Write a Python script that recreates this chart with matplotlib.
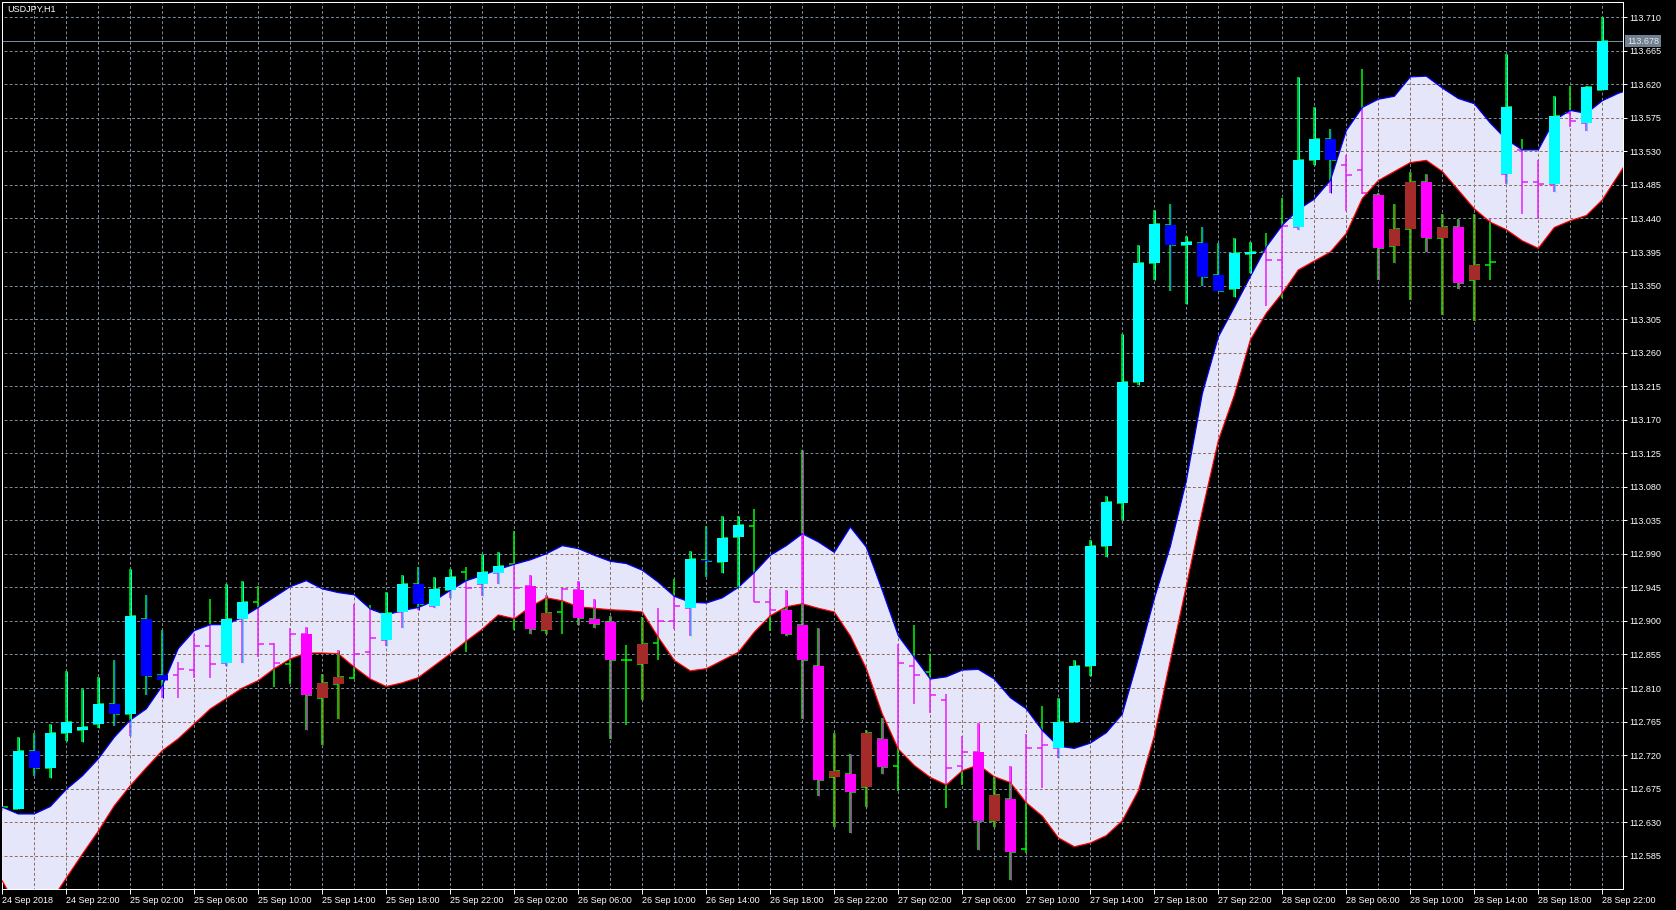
# USDJPY H1 chart: bar chart, coloured candle bodies and a filled band
import matplotlib
matplotlib.use("Agg")
import matplotlib.pyplot as plt
import matplotlib.transforms as mtransforms
from matplotlib.patches import Polygon
import numpy as np

# OHLC of every hourly bar, 24 Sep 18:00 ... 28 Sep 22:00
opens = [112.655, 112.648, 112.725, 112.703, 112.749, 112.753, 112.762, 112.788, 112.775, 112.903,
         112.828, 112.827, 112.834, 112.866, 112.843, 112.903, 112.925, 112.869, 112.842, 112.883,
         112.797, 112.815, 112.823, 112.858, 112.874, 112.912, 112.949, 112.920, 112.941, 112.965,
         112.950, 112.964, 112.977, 112.947, 112.888, 112.912, 112.942, 112.903, 112.898, 112.848,
         112.842, 112.870, 112.900, 112.918, 112.982, 112.979, 113.012, 113.028, 112.926, 112.915,
         112.895, 112.840, 112.690, 112.694, 112.677, 112.742, 112.706, 112.839, 112.832, 112.794,
         112.705, 112.724, 112.632, 112.661, 112.594, 112.730, 112.730, 112.765, 112.840, 113.001,
         113.058, 113.220, 113.380, 113.431, 113.405, 113.407, 113.364, 113.345, 113.392, 113.395,
         113.384, 113.429, 113.518, 113.547, 113.512, 113.505, 113.472, 113.403, 113.426, 113.489,
         113.414, 113.429, 113.357, 113.377, 113.500, 113.532, 113.489, 113.486, 113.582, 113.568,
         113.613]
highs = [112.665, 112.744, 112.750, 112.762, 112.833, 112.809, 112.825, 112.848, 112.970, 112.935,
         112.888, 112.845, 112.882, 112.929, 112.949, 112.954, 112.947, 112.870, 112.891, 112.892,
         112.829, 112.861, 112.923, 112.921, 112.939, 112.961, 112.972, 112.959, 112.970, 112.973,
         112.990, 112.992, 113.021, 112.962, 112.935, 112.944, 112.953, 112.930, 112.907, 112.868,
         112.905, 112.918, 112.956, 112.994, 113.028, 113.041, 113.041, 113.050, 112.943, 112.941,
         113.130, 112.891, 112.750, 112.722, 112.753, 112.770, 112.869, 112.894, 112.855, 112.802,
         112.746, 112.763, 112.692, 112.706, 112.748, 112.786, 112.796, 112.848, 113.008, 113.068,
         113.285, 113.405, 113.451, 113.460, 113.416, 113.428, 113.407, 113.414, 113.408, 113.421,
         113.467, 113.630, 113.590, 113.560, 113.525, 113.640, 113.474, 113.460, 113.503, 113.500,
         113.446, 113.439, 113.446, 113.439, 113.661, 113.546, 113.518, 113.604, 113.618, 113.618,
         113.710]
lows = [112.645, 112.648, 112.692, 112.689, 112.739, 112.737, 112.756, 112.759, 112.746, 112.801,
        112.797, 112.796, 112.824, 112.823, 112.839, 112.843, 112.851, 112.812, 112.815, 112.753,
        112.734, 112.768, 112.822, 112.822, 112.867, 112.890, 112.914, 112.918, 112.931, 112.858,
        112.934, 112.950, 112.888, 112.883, 112.883, 112.882, 112.895, 112.891, 112.741, 112.760,
        112.794, 112.848, 112.889, 112.880, 112.959, 112.964, 112.946, 112.925, 112.886, 112.880,
        112.768, 112.665, 112.623, 112.615, 112.650, 112.695, 112.672, 112.789, 112.777, 112.649,
        112.680, 112.592, 112.623, 112.552, 112.588, 112.676, 112.716, 112.765, 112.826, 112.986,
        113.035, 113.217, 113.357, 113.343, 113.325, 113.350, 113.343, 113.335, 113.367, 113.322,
        113.333, 113.424, 113.512, 113.474, 113.450, 113.473, 113.357, 113.380, 113.331, 113.395,
        113.310, 113.345, 113.302, 113.357, 113.486, 113.446, 113.439, 113.475, 113.563, 113.558,
        113.612]
closes = [112.651, 112.725, 112.703, 112.750, 112.765, 112.758, 112.789, 112.775, 112.906, 112.826,
          112.821, 112.835, 112.866, 112.842, 112.902, 112.926, 112.869, 112.843, 112.882, 112.800,
          112.817, 112.825, 112.856, 112.877, 112.911, 112.950, 112.923, 112.943, 112.959, 112.944,
          112.965, 112.974, 112.944, 112.889, 112.911, 112.943, 112.904, 112.896, 112.848, 112.848,
          112.869, 112.900, 112.920, 112.983, 112.980, 113.011, 113.029, 112.926, 112.915, 112.882,
          112.847, 112.686, 112.699, 112.670, 112.750, 112.704, 112.844, 112.828, 112.800, 112.703,
          112.724, 112.631, 112.667, 112.590, 112.729, 112.733, 112.765, 112.840, 113.001, 113.059,
          113.221, 113.380, 113.433, 113.404, 113.409, 113.362, 113.343, 113.394, 113.395, 113.384,
          113.430, 113.518, 113.547, 113.518, 113.498, 113.474, 113.400, 113.426, 113.489, 113.414,
          113.429, 113.353, 113.377, 113.382, 113.589, 113.489, 113.486, 113.578, 113.571, 113.616,
          113.678]

# body colour of each bar: c cyan, b blue, m magenta, r brown, - no body
body_kind = list("-cbccccbcb" "b---cc---m" "rr--ccbcc-" "cc-mr-mmm-" "r--cbcc--m"
                 "mmrmrm----" "-mrm--cccc" "cccbcbbcc-" "-ccb--mrrm" "rmr-c--c-c" "c")

# band edges (one value per bar, runs two bars past the last candle)
band_upper = [112.650, 112.641, 112.641, 112.651, 112.674, 112.692, 112.715, 112.744, 112.767, 112.782,
              112.813, 112.863, 112.887, 112.895, 112.895, 112.905, 112.918, 112.932, 112.946, 112.954,
              112.943, 112.938, 112.935, 112.916, 112.908, 112.914, 112.918, 112.927, 112.941, 112.954,
              112.961, 112.969, 112.976, 112.982, 112.990, 113.001, 112.997, 112.988, 112.980, 112.977,
              112.968, 112.952, 112.933, 112.925, 112.924, 112.931, 112.945, 112.965, 112.988, 113.001,
              113.017, 113.006, 112.992, 113.026, 112.999, 112.941, 112.880, 112.851, 112.822, 112.825,
              112.834, 112.835, 112.822, 112.797, 112.782, 112.753, 112.732, 112.729, 112.736, 112.750,
              112.775, 112.850, 112.930, 113.000, 113.088, 113.205, 113.281, 113.321, 113.362, 113.402,
              113.431, 113.452, 113.466, 113.491, 113.558, 113.589, 113.600, 113.604, 113.630, 113.631,
              113.615, 113.601, 113.594, 113.568, 113.546, 113.532, 113.532, 113.572, 113.585, 113.581,
              113.598, 113.608, 113.615]
band_lower = [112.551, 112.513, 112.504, 112.523, 112.555, 112.587, 112.618, 112.652, 112.679, 112.703,
              112.726, 112.742, 112.762, 112.782, 112.796, 112.810, 112.820, 112.836, 112.849, 112.857,
              112.857, 112.856, 112.838, 112.822, 112.812, 112.817, 112.824, 112.840, 112.856, 112.873,
              112.889, 112.908, 112.903, 112.919, 112.931, 112.927, 112.919, 112.917, 112.915, 112.914,
              112.912, 112.878, 112.847, 112.833, 112.836, 112.847, 112.858, 112.885, 112.907, 112.919,
              112.923, 112.917, 112.912, 112.880, 112.836, 112.775, 112.728, 112.706, 112.690, 112.680,
              112.699, 112.707, 112.691, 112.683, 112.656, 112.638, 112.609, 112.597, 112.602, 112.612,
              112.632, 112.672, 112.746, 112.847, 112.947, 113.048, 113.142, 113.203, 113.277, 113.313,
              113.340, 113.371, 113.383, 113.395, 113.420, 113.467, 113.491, 113.503, 113.515, 113.518,
              113.503, 113.478, 113.453, 113.435, 113.425, 113.410, 113.400, 113.428, 113.437, 113.444,
              113.465, 113.498, 113.532]

# axis labels
price_ticks = [113.710, 113.665, 113.620, 113.575, 113.530, 113.485, 113.440, 113.395, 113.350,
               113.305, 113.260, 113.215, 113.170, 113.125, 113.080, 113.035, 112.990, 112.945,
               112.900, 112.855, 112.810, 112.765, 112.720, 112.675, 112.630, 112.585]
time_bars = [0, 4, 8, 12, 16, 20, 24, 28, 32, 36, 40, 44, 48, 52, 56, 60, 64, 68, 72, 76, 80,
             84, 88, 92, 96, 100]
time_labels = ["24 Sep 2018", "24 Sep 22:00", "25 Sep 02:00", "25 Sep 06:00", "25 Sep 10:00",
               "25 Sep 14:00", "25 Sep 18:00", "25 Sep 22:00", "26 Sep 02:00", "26 Sep 06:00",
               "26 Sep 10:00", "26 Sep 14:00", "26 Sep 18:00", "26 Sep 22:00", "27 Sep 02:00",
               "27 Sep 06:00", "27 Sep 10:00", "27 Sep 14:00", "27 Sep 18:00", "27 Sep 22:00",
               "28 Sep 02:00", "28 Sep 06:00", "28 Sep 10:00", "28 Sep 14:00", "28 Sep 18:00",
               "28 Sep 22:00"]
current_price = 113.678

# colours
kind_colors = {"c": "#00ffff", "b": "#0000ff", "m": "#ff00ff", "r": "#a52a2a"}
grid_color = "#778899"
grid_in_band = "#916e63"
bar_color = "#00ff00"
bar_in_band = "#e619fa"
band_fill = "#e6e6fa"

W, H = 1676, 910
px = 0.72  # one pixel in points
fig = plt.figure(figsize=(W / 100, H / 100), dpi=100, facecolor="black")
ax = fig.add_axes([2 / W, 21 / H, 1621 / W, 887 / H], facecolor="black")
ax.set_xlim(-0.02, 101.29)
ax.set_ylim(112.5403, 113.7305)

x = np.arange(len(opens))
tick_len = 0.36
body_w = 0.69


def draw_grid(color, z, clip=None):
    # dashed grid: every price tick and every second bar
    h = ax.hlines(price_ticks, -1, 103, colors=color, lw=px, linestyles=(0, (2.9, 2.2)), zorder=z)
    v = ax.vlines(np.arange(2, 101, 2), 112.3, 113.9, colors=color, lw=px,
                  linestyles=(0, (2.9, 2.2)), zorder=z)
    if clip is not None:
        h.set_clip_path(clip)
        v.set_clip_path(clip)


def draw_bars(color, z, clip=None):
    # plain bar chart: high-low line, open tick left, close tick right
    items = [ax.vlines(x, lows, highs, colors=color, lw=1.5 * px, zorder=z),
             ax.hlines(opens, x - tick_len, x, colors=color, lw=1.5 * px, zorder=z),
             ax.hlines(closes, x, x + tick_len, colors=color, lw=1.5 * px, zorder=z)]
    if clip is not None:
        for it in items:
            it.set_clip_path(clip)


draw_grid(grid_color, 1)
ax.axhline(current_price, color=grid_color, lw=px, zorder=1.5)
draw_bars(bar_color, 2)

# band between the two lines
xb = np.arange(len(band_upper))
verts = np.column_stack([np.r_[xb, xb[::-1]], np.r_[band_upper, band_lower[::-1]]])
band = Polygon(verts, closed=True, facecolor=band_fill, edgecolor="none", zorder=3)
ax.add_patch(band)

# grid and bars seen through the band change colour
draw_grid(grid_in_band, 4, band)
draw_bars(bar_in_band, 4, band)

ax.plot(xb, band_upper, color="#0000ff", lw=1.2 * px, zorder=5)
ax.plot(xb, band_lower, color="#ff0000", lw=1.2 * px, zorder=5)

# coloured candle bodies with their own thin wick
for k, col in kind_colors.items():
    idx = np.array([i for i, b in enumerate(body_kind) if b == k])
    o = np.array(opens)[idx]
    c = np.array(closes)[idx]
    ax.vlines(idx + 0.07, np.array(lows)[idx], np.array(highs)[idx], colors=col, lw=px, zorder=6)
    ax.bar(idx, c - o, bottom=o, width=body_w, color=col, linewidth=0, zorder=7)

# frame and axes
for s in ax.spines.values():
    s.set_color("white")
    s.set_linewidth(px)
ax.yaxis.tick_right()
ax.set_yticks(price_ticks)
ax.set_yticklabels(["%.3f" % p for p in price_ticks])
ax.set_xticks(time_bars)
ax.set_xticklabels(time_labels, ha="left")
ax.tick_params(axis="y", colors="white", labelsize=6.5, length=3, width=px, pad=1.5)
ax.tick_params(axis="x", colors="white", labelsize=6.5, length=3.5, width=px, pad=1.5)
for lab in ax.get_xticklabels() + ax.get_yticklabels():
    lab.set_family("Liberation Sans")

# last price marker on the price scale
trans = mtransforms.blended_transform_factory(ax.transAxes, ax.transData)
ax.text(1.0025, current_price, "%.3f" % current_price, transform=trans, ha="left", va="center",
        fontsize=6.5, family="Liberation Sans", color="#e8e8e8",
        bbox=dict(boxstyle="square,pad=0.2", fc="#708090", ec="none"), zorder=10)

# symbol name
ax.text(0.003, 0.997, "USDJPY,H1", transform=ax.transAxes, ha="left", va="top",
        fontsize=6.5, family="Liberation Sans", color="white", zorder=10)

fig.savefig("out.png", dpi=100, facecolor="black")
